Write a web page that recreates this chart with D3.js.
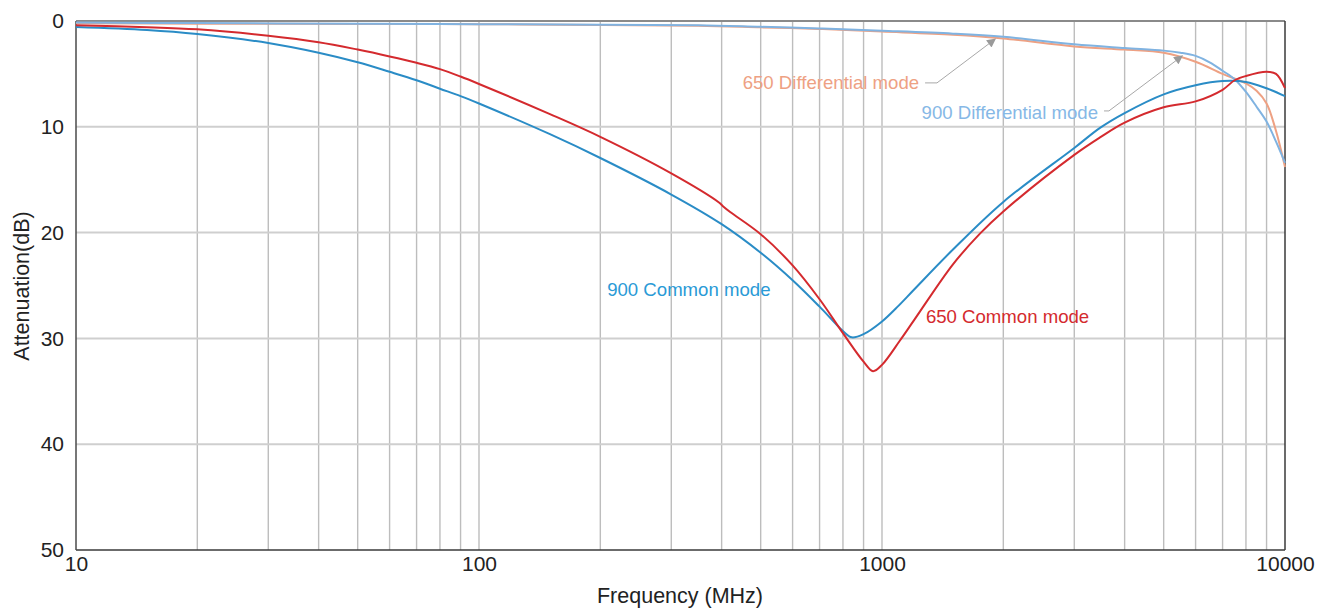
<!DOCTYPE html>
<html>
<head>
<meta charset="utf-8">
<script src="https://cdn.jsdelivr.net/npm/d3@7"></script>
<style>
  html, body { margin: 0; padding: 0; background: #fff; }
  svg { display: block; font-family: "Liberation Sans", Arial, Helvetica, sans-serif; }
</style>
</head>
<body>
<svg id="chart" width="1328" height="609"></svg>
<script>
// ---------- data ----------
const xTickLabels = [10, 100, 1000, 10000];
const yTickLabels = [0, 10, 20, 30, 40, 50];

const cm900Freq = [10, 15, 20, 30, 40, 50, 60, 70, 80, 90, 100, 150, 200, 300, 400, 500, 600, 700, 800, 841, 900, 1000, 1100, 1200, 1500, 2000, 3000, 3475, 4000, 5000, 6000, 7000, 8000, 9000, 10000];
const cm900dB   = [0.57, 0.85, 1.23, 2.08, 3.0, 3.9, 4.8, 5.6, 6.4, 7.1, 7.8, 10.7, 12.95, 16.4, 19.2, 21.9, 24.5, 27.0, 29.3, 29.9, 29.6, 28.4, 26.9, 25.4, 21.6, 17.1, 12.0, 10.1, 8.7, 6.93, 6.07, 5.67, 5.76, 6.36, 7.1];

const cm650Freq = [10, 15, 20, 30, 40, 50, 60, 70, 80, 90, 100, 150, 200, 300, 394, 403, 420, 500, 600, 700, 800, 900, 950, 1000, 1108, 1200, 1500, 1750, 2000, 3000, 3475, 4000, 5000, 6000, 7000, 7500, 8000, 9000, 9500, 10000];
const cm650dB   = [0.41, 0.58, 0.79, 1.39, 2.0, 2.7, 3.35, 3.95, 4.55, 5.25, 5.95, 8.8, 10.95, 14.4, 17.15, 17.5, 18.05, 20.15, 23.1, 26.3, 29.5, 32.2, 33.1, 32.5, 30.2, 28.3, 23.0, 20.1, 18.0, 12.65, 11.0, 9.6, 8.15, 7.6, 6.5, 5.6, 5.2, 4.8, 5.0, 6.35];

const dm900Freq = [10, 20, 50, 100, 200, 350, 500, 700, 1000, 1500, 2000, 3000, 4000, 5000, 5500, 6000, 6500, 7000, 7500, 8000, 8500, 9000, 9500, 10000];
const dm900dB   = [0.15, 0.2, 0.25, 0.3, 0.35, 0.4, 0.55, 0.7, 0.92, 1.2, 1.5, 2.2, 2.55, 2.8, 3.0, 3.3, 3.9, 4.7, 5.5, 6.7, 8.1, 9.5, 11.4, 13.4];

const dm650Freq = [10, 20, 50, 100, 200, 350, 500, 700, 1000, 1500, 2000, 3000, 4000, 5000, 6000, 7000, 8000, 8500, 9000, 9500, 10000];
const dm650dB   = [0.22, 0.25, 0.28, 0.3, 0.38, 0.45, 0.6, 0.75, 1.0, 1.3, 1.65, 2.4, 2.7, 3.0, 3.85, 5.0, 5.9, 6.6, 7.8, 10.4, 13.8];

const seriesNames  = ["900 Common mode", "650 Common mode", "900 Differential mode", "650 Differential mode"];

// ---------- setup ----------
const svg = d3.select("#chart");
const M = { left: 76, right: 1285, top: 21, bottom: 550 };
const x = d3.scaleLog().domain([10, 10000]).range([M.left, M.right]);
const y = d3.scaleLinear().domain([0, 50]).range([M.top, M.bottom]);

// grid: vertical (every 1..9 x decade)
const vGrid = [];
for (let dec = 10; dec < 10000; dec *= 10) for (let k = 1; k <= 9; k++) {
  const v = dec * k; if (v > 10 && v < 10000) vGrid.push(v);
}
svg.append("g").selectAll("line").data(vGrid).join("line")
  .attr("x1", d => x(d)).attr("x2", d => x(d))
  .attr("y1", M.top).attr("y2", M.bottom)
  .attr("stroke", "#bdbdbd").attr("stroke-width", 1.4);

svg.append("g").selectAll("line").data([10, 20, 30, 40]).join("line")
  .attr("x1", M.left).attr("x2", M.right)
  .attr("y1", d => y(d)).attr("y2", d => y(d))
  .attr("stroke", "#cfcfcf").attr("stroke-width", 2);

// frame
svg.append("line").attr("x1", M.left).attr("x2", M.right).attr("y1", M.top).attr("y2", M.top)
  .attr("stroke", "#8a8a8a").attr("stroke-width", 2);
svg.append("line").attr("x1", M.left).attr("x2", M.right).attr("y1", M.bottom).attr("y2", M.bottom)
  .attr("stroke", "#3a3a3a").attr("stroke-width", 1.5);
svg.append("line").attr("x1", M.left).attr("x2", M.left).attr("y1", M.top).attr("y2", M.bottom)
  .attr("stroke", "#4a4a4a").attr("stroke-width", 1.5);
svg.append("line").attr("x1", M.right).attr("x2", M.right).attr("y1", M.top).attr("y2", M.bottom)
  .attr("stroke", "#3a3a3a").attr("stroke-width", 1.5);

// axes (labels only)
const xAxis = svg.append("g").attr("transform", `translate(0,${M.bottom + 3})`)
  .call(d3.axisBottom(x).tickValues(xTickLabels).tickFormat(d3.format("d")).tickSize(0));
xAxis.select(".domain").remove();
xAxis.selectAll("text").attr("font-size", 21).attr("fill", "#222")
  .attr("font-family", '"Liberation Sans", Arial, sans-serif');

const yAxis = svg.append("g").attr("transform", `translate(${M.left - 9},0)`)
  .call(d3.axisLeft(y).tickValues(yTickLabels).tickFormat(d3.format("d")).tickSize(0));
yAxis.select(".domain").remove();
yAxis.selectAll("text").attr("font-size", 21).attr("fill", "#222")
  .attr("font-family", '"Liberation Sans", Arial, sans-serif');

// axis titles
svg.append("text").attr("x", 680).attr("y", 603)
  .attr("text-anchor", "middle").attr("font-size", 21.5).attr("fill", "#222")
  .text("Frequency (MHz)");
svg.append("text").attr("transform", `translate(29,286) rotate(-90)`)
  .attr("text-anchor", "middle").attr("font-size", 21.5).attr("fill", "#222")
  .text("Attenuation(dB)");

// ---------- curves ----------
const line = d3.line().x(d => x(d[0])).y(d => y(d[1])).curve(d3.curveCatmullRom.alpha(0.5));
const series = [
  { f: dm650Freq, v: dm650dB, color: "#eea183" },
  { f: dm900Freq, v: dm900dB, color: "#80b3e1" },
  { f: cm900Freq, v: cm900dB, color: "#2a8cc6" },
  { f: cm650Freq, v: cm650dB, color: "#d42a2e" }
];
series.forEach(s => {
  svg.append("path").datum(s.f.map((f, i) => [f, s.v[i]]))
    .attr("d", line).attr("fill", "none")
    .attr("stroke", s.color).attr("stroke-width", 2);
});

// ---------- labels & leaders ----------
svg.append("defs").append("marker").attr("id", "arr")
  .attr("viewBox", "0 0 10 10").attr("refX", 9).attr("refY", 5)
  .attr("markerWidth", 11).attr("markerHeight", 9).attr("markerUnits", "userSpaceOnUse")
  .attr("orient", "auto")
  .append("path").attr("d", "M0,0 L10,5 L0,10 z").attr("fill", "#9a9a9a");

const labels = [
  { text: seriesNames[0], f: 208, db: 25.4, anchor: "start", color: "#2a9ad6" },
  { text: seriesNames[1], f: 1285, db: 27.9, anchor: "start", color: "#d42a2e" },
  { text: seriesNames[2], f: 3436, db: 8.65, anchor: "end", color: "#86b8e6",
    leader: [[3556, 8.5], [3656, 8.5], [5560, 3.3]] },
  { text: seriesNames[3], f: 1236, db: 5.85, anchor: "end", color: "#eea183",
    leader: [[1279, 5.85], [1369, 5.85], [1910, 1.7]] }
];
labels.forEach(l => {
  svg.append("text").attr("x", x(l.f)).attr("y", y(l.db))
    .attr("dy", "0.35em").attr("text-anchor", l.anchor)
    .attr("font-size", 18.6).attr("fill", l.color).text(l.text);
  if (l.leader) {
    svg.append("path")
      .attr("d", d3.line().x(d => x(d[0])).y(d => y(d[1])).curve(d3.curveLinear)(l.leader))
      .attr("fill", "none").attr("stroke", "#a8a8a8").attr("stroke-width", 1)
      .attr("marker-end", "url(#arr)");
  }
});
</script>
</body>
</html>
